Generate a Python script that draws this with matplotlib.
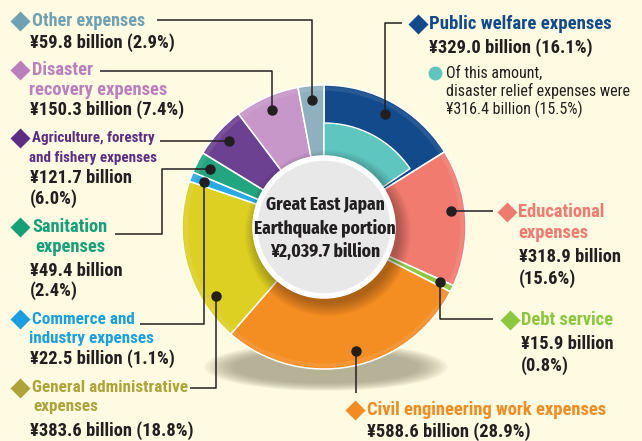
import matplotlib
matplotlib.use("Agg")
import matplotlib.pyplot as plt
from matplotlib.patches import Circle, Ellipse
import numpy as np

# ---------------- data ----------------
categories = ["Public welfare expenses", "Educational expenses", "Debt service",
              "Civil engineering work expenses", "General administrative expenses",
              "Commerce and industry expenses", "Sanitation expenses",
              "Agriculture, forestry and fishery expenses",
              "Disaster recovery expenses", "Other expenses"]
values = [329.0, 318.9, 15.9, 588.6, 383.6, 22.5, 49.4, 121.7, 150.3, 59.8]
percents = [16.1, 15.6, 0.8, 28.9, 18.8, 1.1, 2.4, 6.0, 7.4, 2.9]
relief_value = 316.4
relief_percent = 15.5
total_value = 2039.7
center_title = ["Great East Japan", "Earthquake portion"]

seg_colors = ["#124a8b", "#f27b70", "#8dc63f", "#f48d22", "#ddd022",
              "#2aaae2", "#22a67f", "#6d4191", "#c697c8", "#8fb1bf"]
label_colors = ["#124a8b", "#ef7a6f", "#8dc63f", "#f28b22", "#aca33a",
                "#1a9fe0", "#16a07a", "#5b2d83", "#ba80bd", "#6fa1b3"]
teal = "#5ec6be"
BG = "#fffbe2"
FAM = ["Roboto Condensed", "DejaVu Sans"]
CFAM = ["Fira Sans Extra Condensed", "Roboto Condensed", "DejaVu Sans"]

# ---------------- layout (pixels) ----------------
W, H = 642, 441
def Y(py):
    return H - py

cx, cy = 324, Y(227)
R_out, R_in, R_teal = 142, 70, 104

fig = plt.figure(figsize=(6.42, 4.41), dpi=100)
fig.patch.set_facecolor(BG)
ax = fig.add_axes([0, 0, 1, 1])
ax.set_facecolor(BG)

# floor shadow
for i in range(14):
    k = i / 13
    ax.add_patch(Ellipse((cx + 2, Y(367)), 2 * (122 - 30 * k), 2 * (24 - 8 * k),
                         facecolor="#8f8c70", edgecolor="none", alpha=0.065, zorder=0.5))

wedges, _ = ax.pie(values, colors=seg_colors, startangle=90, counterclock=False,
                   radius=R_out, center=(cx, cy),
                   wedgeprops=dict(width=R_out - R_in, edgecolor="white", linewidth=1.1))
rw, _ = ax.pie([relief_value, total_value - relief_value], colors=[teal, "none"],
               startangle=90, counterclock=False, radius=R_teal, center=(cx, cy),
               wedgeprops=dict(width=R_teal - R_in, edgecolor="white", linewidth=1.0))
rw[1].set_visible(False)

# rim highlight
for i in range(5):
    ax.add_patch(Circle((cx, cy), R_out - 2 - i * 0.8, facecolor="none", edgecolor="white",
                        linewidth=0.8, alpha=0.07, zorder=3))

# inner shadow of centre disc
for i in range(10):
    ax.add_patch(Circle((cx + 4, cy - 6), 83 - i * 1.4, facecolor="#000000",
                        edgecolor="none", alpha=0.03, zorder=3))

ax.add_patch(Circle((cx, cy), 69, facecolor="#e8e8e8", edgecolor="white",
                    linewidth=4, zorder=4))

center_lines = center_title + [f"¥{total_value:,.1f} billion"]
for s, py in zip(center_lines, [204, 228, 252]):
    ax.text(cx + 1, Y(py), s, ha="center", va="center", fontsize=13.6,
            fontweight="bold", color="#231f20", family=CFAM, zorder=5)

# ---------------- labels ----------------
def val_line(i):
    return f"¥{values[i]:.1f} billion ({percents[i]:.1f}%)"

def val_split(i):
    return [f"¥{values[i]:.1f} billion", f"({percents[i]:.1f}%)"]

# (index, diamond xy, title lines [(text,x,y)], value lines [(text,x,y)], dot frac, leader moves, title size)
specs = [
    (0, (418, 24), [("Public welfare expenses", 429, 24)],
     [(val_line(0), 429, 48)], 0.49, [("v", 23), ("h", 402)], 13.5),
    (1, (507, 212), [("Educational", 518, 212), ("expenses", 518, 233)],
     list(zip(val_split(1), [519, 519], [257, 279])), 0.44, [("h", 493)], 13.3),
    (2, (510, 320), [("Debt service", 521, 320)],
     list(zip(val_split(2), [521, 521], [344, 366])), 0.4, [("v", 319), ("h", 493)], 13.3),
    (3, (355, 410), [("Civil engineering work expenses", 367, 410)],
     [(val_line(3), 367, 432)], 0.465, [("v", 393)], 13.3),
    (4, (20, 388), [("General administrative", 32, 388), ("expenses", 33, 407)],
     [(val_line(4), 30, 431)], 0.245, [("v", 388), ("h", 190)], 12.3),
    (5, (20, 319), [("Commerce and", 32, 319), ("industry expenses", 29, 339)],
     [(val_line(5), 30, 359)], 0.5, [("v", 324), ("h", 140)], 12.3),
    (6, (20, 227), [("Sanitation", 32, 227), ("expenses", 35, 247)],
     list(zip(val_split(6), [30, 30], [271, 291])), 0.5, [("h", 162), ("v", 234), ("h", 115)], 13.3),
    (7, (20, 138), [("Agriculture, forestry", 32, 138), ("and fishery expenses", 29, 158)],
     list(zip(val_split(7), [30, 30], [178, 199])), 0.5, [("h", 160)], 10.8),
    (8, (20, 70), [("Disaster", 32, 70), ("recovery expenses", 29, 90)],
     [(val_line(8), 30, 110)], 0.5, [("v", 71), ("h", 100)], 13.3),
    (9, (20, 21), [("Other expenses", 32, 21)],
     [(val_line(9), 30, 43)], 0.5, [("v", 20), ("h", 157)], 13.1),
]

R_dot = 128
for idx, (dx, dy), titles, vals, frac, moves, tsize in specs:
    w = wedges[idx]
    ang = np.deg2rad(w.theta2 - frac * (w.theta2 - w.theta1))
    px, py = cx + R_dot * np.cos(ang), cy + R_dot * np.sin(ang)
    xs, ys = [px], [py]
    for kind, v in moves:
        if kind == "v":
            xs.append(xs[-1]); ys.append(Y(v))
        else:
            xs.append(v); ys.append(ys[-1])
    ax.plot(xs, ys, color="#231f20", lw=1.1, zorder=6, solid_capstyle="butt")
    ax.plot(px, py, marker="o", ms=6.5, color="#231f20", zorder=7)
    ax.plot(dx, Y(dy), marker="D", ms=10, color=label_colors[idx], mec="none", zorder=7)
    for s, x, y in titles:
        ax.text(x, Y(y), s, ha="left", va="center", fontsize=tsize, fontweight="bold",
                color=label_colors[idx], family=FAM, zorder=7)
    for s, x, y in vals:
        ax.text(x, Y(y), s, ha="left", va="center", fontsize=13.3, fontweight="bold",
                color="#231f20", family=FAM, zorder=7)

# relief sub-note
ax.plot(435, Y(73), marker="o", ms=10, color=teal, mec="none", zorder=7)
note = ["Of this amount,", "disaster relief expenses were",
        f"¥{relief_value:.1f} billion ({relief_percent:.1f}%)"]
for s, py in zip(note, [73, 91, 109]):
    ax.text(446, Y(py), s, ha="left", va="center", fontsize=11.5,
            color="#231f20", family=FAM, zorder=7)

ax.set_xlim(0, W)
ax.set_ylim(0, H)
ax.set_aspect("auto")
ax.axis("off")
fig.savefig("out.png", dpi=100, facecolor=BG)
